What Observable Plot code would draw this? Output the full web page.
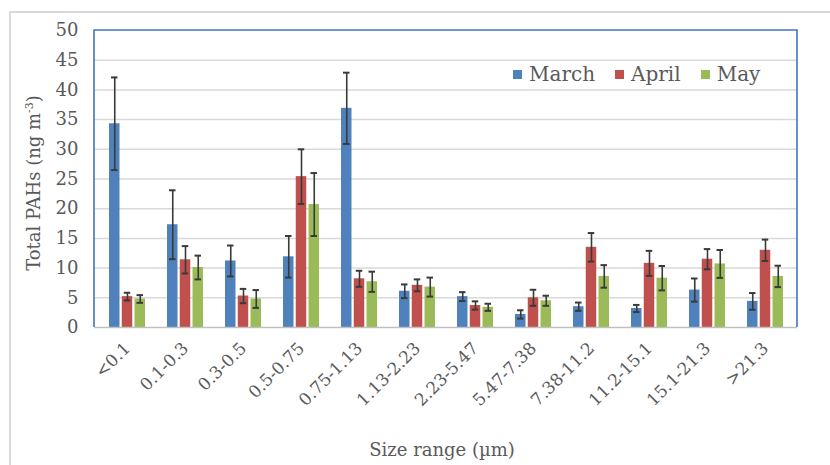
<!DOCTYPE html>
<html>
<head>
<meta charset="utf-8">
<script src="https://cdn.jsdelivr.net/npm/d3@7"></script>
<script src="https://cdn.jsdelivr.net/npm/@observablehq/plot@0.6"></script>
<style>
  html, body { margin: 0; padding: 0; background: #fff; }
  #wrap { position: relative; width: 830px; height: 465px; overflow: hidden; font-family: "DejaVu Serif", serif; color: #595959; }
  #border { position: absolute; left: 9px; top: 11px; width: 900px; height: 600px; border-left: 2px solid #d9d9d9; border-top: 2px solid #d9d9d9; }
  #chart { position: absolute; left: 0; top: 0; }
  #ytitle { position: absolute; left: 33px; top: 183px; transform: translate(-50%, -50%) rotate(-90deg); white-space: nowrap; font-size: 18px; }
  #ytitle sup { font-size: 11px; vertical-align: 7px; line-height: 0; }
  #xtitle { position: absolute; left: 442px; top: 449px; transform: translate(-50%, -50%); white-space: nowrap; font-size: 18px; }
  #legend { position: absolute; left: 513px; top: 62px; display: flex; align-items: center; font-size: 20px; }
  #legend .item { display: flex; align-items: center; margin-right: 20px; }
  #legend .sw { width: 9px; height: 9px; margin-right: 7px; }
</style>
</head>
<body>
<div id="wrap">
  <div id="border"></div>
  <div id="chart"></div>
  <div id="ytitle">Total PAHs (ng m<sup>-3</sup>)</div>
  <div id="xtitle">Size range (µm)</div>
  <div id="legend"></div>
</div>
<script>
const categories = ["<0.1","0.1-0.3","0.3-0.5","0.5-0.75","0.75-1.13","1.13-2.23","2.23-5.47","5.47-7.38","7.38-11.2","11.2-15.1","15.1-21.3",">21.3"];
const series = ["March","April","May"];
const colors = ["#4F81BD","#C0504D","#9BBB59"];
const march    = [34.3,17.3,11.2,11.9,36.9,6.1,5.2,2.2,3.5,3.2,6.3,4.4];
const marchErr = [7.8,5.8,2.6,3.5,6.0,1.15,0.75,0.7,0.7,0.6,1.95,1.4];
const april    = [5.2,11.4,5.3,25.4,8.2,7.1,3.7,5.0,13.5,10.8,11.5,13.0];
const aprilErr = [0.65,2.3,1.2,4.6,1.35,1.0,0.7,1.35,2.4,2.1,1.7,1.8];
const may      = [4.8,10.1,4.8,20.7,7.7,6.8,3.4,4.5,8.6,8.3,10.7,8.6];
const mayErr   = [0.65,2.0,1.5,5.3,1.7,1.6,0.6,0.85,1.9,2.05,2.35,1.8];
const yTicks = [0,5,10,15,20,25,30,35,40,45,50];

const values = [march, april, may];
const errs = [marchErr, aprilErr, mayErr];

// Geometry (styling): group band 36px, bar 10.5px, step between bars 12.75px
const bandW = 36, barW = 10.5, barStep = 12.75, capInset = 2;

const seriesMarks = series.flatMap((s, j) => {
  const rows = categories.map((c, i) => ({cat: c, series: s, value: values[j][i], lo: values[j][i] - errs[j][i], hi: values[j][i] + errs[j][i]}));
  const insL = j * barStep, insR = bandW - insL - barW;
  const off = (j - 1) * barStep;
  return [
    Plot.barY(rows, {x: "cat", y: "value", fill: colors[j], insetLeft: insL, insetRight: insR}),
    Plot.ruleX(rows, {x: "cat", y1: "lo", y2: "hi", dx: off, stroke: "#3a3a3a", strokeWidth: 1.6}),
    Plot.tickY(rows, {x: "cat", y: "lo", stroke: "#3a3a3a", strokeWidth: 2, insetLeft: insL + capInset, insetRight: insR + capInset}),
    Plot.tickY(rows, {x: "cat", y: "hi", stroke: "#3a3a3a", strokeWidth: 2, insetLeft: insL + capInset, insetRight: insR + capInset})
  ];
});

const font = "DejaVu Serif, serif";
const chart = Plot.plot({
  width: 830,
  height: 465,
  marginLeft: 94,
  marginRight: 33,
  marginTop: 30,
  marginBottom: 138,
  style: {fontFamily: font, color: "#595959", background: "transparent", overflow: "visible"},
  x: {domain: categories, paddingInner: 0.385, paddingOuter: 0.1925, label: null},
  y: {domain: [0, 50]},
  marks: [
    Plot.gridY(yTicks.filter(d => d > 0 && d < 50), {stroke: "#d9d9d9", strokeOpacity: 1, strokeWidth: 1.5}),
    Plot.axisY(yTicks, {anchor: "left", tickSize: 0, tickPadding: 16, fontSize: 18, label: null}),
    Plot.axisX({anchor: "bottom", tickRotate: -45, tickSize: 0, tickPadding: 18, fontSize: 17, label: null}),
    ...seriesMarks,
    Plot.ruleY([0], {stroke: "#bfbfbf", strokeWidth: 1.5})
  ]
});
document.getElementById("chart").appendChild(chart);

// Blue plot-area frame drawn from the chart's own scales
const xScale = chart.scale("x");
const yScale = chart.scale("y");
const frameLeft = xScale.range[0], frameRight = xScale.range[1];
const frameTop = yScale.apply(50), frameBottom = yScale.apply(0);
d3.select(chart).append("path")
  .attr("d", `M${frameLeft},${frameBottom}V${frameTop}H${frameRight}V${frameBottom}`)
  .attr("fill", "none").attr("stroke", "#4472C4").attr("stroke-width", 1.6);

const legend = document.getElementById("legend");
series.forEach((s, j) => {
  const item = document.createElement("div");
  item.className = "item";
  item.innerHTML = `<span class="sw" style="background:${colors[j]}"></span><span>${s}</span>`;
  legend.appendChild(item);
});
</script>
</body>
</html>
